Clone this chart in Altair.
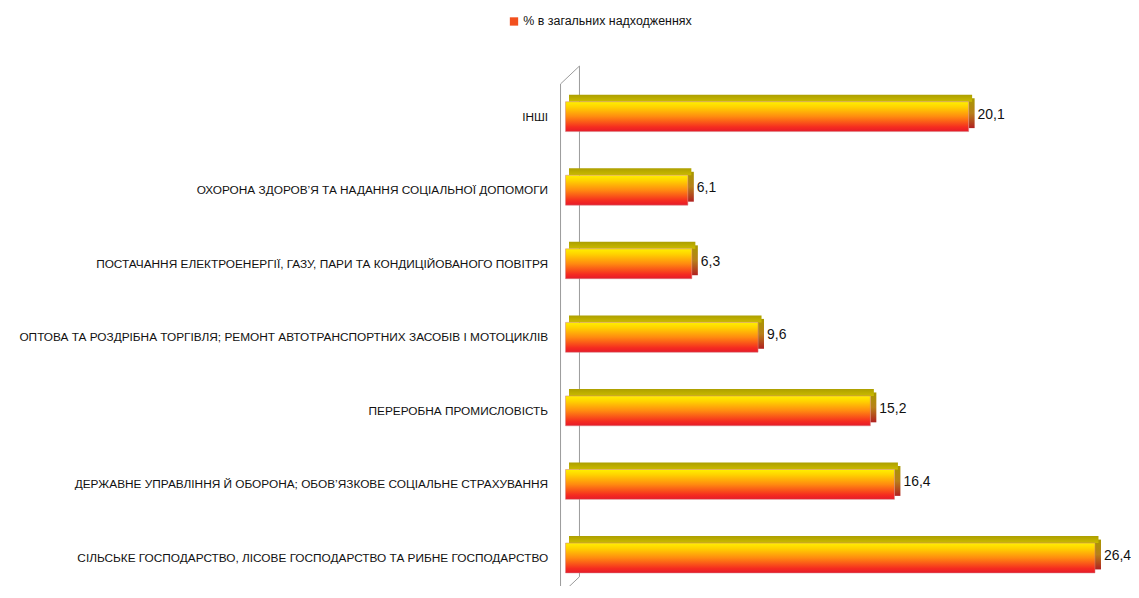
import altair as alt
import pandas as pd

categories = [
    "ІНШІ",
    "ОХОРОНА ЗДОРОВ’Я ТА НАДАННЯ СОЦІАЛЬНОЇ ДОПОМОГИ ",
    "ПОСТАЧАННЯ ЕЛЕКТРОЕНЕРГІЇ, ГАЗУ, ПАРИ ТА КОНДИЦІЙОВАНОГО ПОВІТРЯ",
    "ОПТОВА ТА РОЗДРІБНА ТОРГІВЛЯ; РЕМОНТ АВТОТРАНСПОРТНИХ ЗАСОБІВ І МОТОЦИКЛІВ",
    "ПЕРЕРОБНА ПРОМИСЛОВІСТЬ",
    "ДЕРЖАВНЕ УПРАВЛІННЯ Й ОБОРОНА; ОБОВ’ЯЗКОВЕ СОЦІАЛЬНЕ СТРАХУВАННЯ",
    "СІЛЬСЬКЕ ГОСПОДАРСТВО, ЛІСОВЕ ГОСПОДАРСТВО ТА РИБНЕ ГОСПОДАРСТВО",
]
values = [20.1, 6.1, 6.3, 9.6, 15.2, 16.4, 26.4]
series_name = "% в загальних надходженнях"

df = pd.DataFrame({"category": categories, "value": values})
df["label"] = [f"{v:.1f}".replace(".", ",") for v in values]
df["series"] = series_name

FONT = "Liberation Sans"

y_enc = alt.Y(
    "category:N",
    sort=categories,
    scale=alt.Scale(paddingInner=0.6, paddingOuter=0.1635),
    axis=alt.Axis(
        title=None, ticks=False, domain=False, labelPadding=18, labelLimit=700,
        labelFont=FONT, labelFontSize=11.9, labelColor="#111111",
    ),
)
x_enc = alt.X("value:Q", scale=alt.Scale(domain=[0, 27.5], nice=False), axis=None)

front_grad = alt.Gradient(
    gradient="linear",
    stops=[
        alt.GradientStop(color="#fff000", offset=0),
        alt.GradientStop(color="#ffd200", offset=0.18),
        alt.GradientStop(color="#ff8a10", offset=0.5),
        alt.GradientStop(color="#f52c20", offset=0.85),
        alt.GradientStop(color="#e51a2a", offset=1),
    ],
    x1=0, x2=0, y1=0, y2=1,
)
top_grad = alt.Gradient(
    gradient="linear",
    stops=[
        alt.GradientStop(color="#ad9f00", offset=0),
        alt.GradientStop(color="#cbbb00", offset=1),
    ],
    x1=0, x2=0, y1=0, y2=1,
)
side_grad = alt.Gradient(
    gradient="linear",
    stops=[
        alt.GradientStop(color="#a89800", offset=0),
        alt.GradientStop(color="#b8801a", offset=0.5),
        alt.GradientStop(color="#b02020", offset=1),
    ],
    x1=0, x2=0, y1=0, y2=1,
)

base = alt.Chart(df)

side = base.mark_tick(
    orient="vertical", thickness=6, size=30, xOffset=3, yOffset=-3.5, color=side_grad, opacity=1
).encode(x=x_enc, y=y_enc)

top = base.mark_bar(size=7, yOffset=-18.5, xOffset=3.5, color=top_grad).encode(x=x_enc, y=y_enc)

front = base.mark_bar(size=30, color=front_grad, stroke="#d08080", strokeWidth=0.5).encode(x=x_enc, y=y_enc)

text = base.mark_text(
    align="left", baseline="middle", dx=9, dy=-2, font=FONT, fontSize=14, color="#111111"
).encode(x=x_enc, y=y_enc, text="label:N")

legend_layer = base.mark_square(opacity=0, size=1).encode(
    x=x_enc,
    y=y_enc,
    color=alt.Color(
        "series:N",
        scale=alt.Scale(range=["#f2501e"]),
        legend=alt.Legend(
            orient="none", legendX=-58, legendY=-75, title=None,
            symbolType="square", symbolSize=70, symbolOpacity=1, symbolStrokeWidth=0,
            labelFont=FONT, labelFontSize=12.5, labelColor="#111111", labelOffset=3,
            labelLimit=400,
        ),
    ),
)

one = alt.Data(values=[{"k": 1}])
wall_color = "#9a9a9a"
wall_left = alt.Chart(one).mark_rule(color=wall_color, strokeWidth=1).encode(
    x=alt.value(-5), y=alt.value(-6), y2=alt.value(512))
wall_right = alt.Chart(one).mark_rule(color=wall_color, strokeWidth=1).encode(
    x=alt.value(14), y=alt.value(-24), y2=alt.value(489))
wall_top = alt.Chart(one).mark_rule(color=wall_color, strokeWidth=1).encode(
    x=alt.value(-5), y=alt.value(-6), x2=alt.value(14), y2=alt.value(-24))
wall_bot = alt.Chart(one).mark_rule(color=wall_color, strokeWidth=1).encode(
    x=alt.value(14), y=alt.value(489), x2=alt.value(-5), y2=alt.value(507))

chart = alt.layer(
    wall_left, wall_right, wall_top, wall_bot, side, top, front, text, legend_layer
).properties(
    width=554,
    height=497,
    background="white",
    autosize=alt.AutoSizeParams(type="none"),
    padding={"left": 560, "top": 81, "right": 14, "bottom": 0},
).configure_view(stroke=None)

chart.save("out.html", embed_options={"renderer": "svg", "actions": False})
